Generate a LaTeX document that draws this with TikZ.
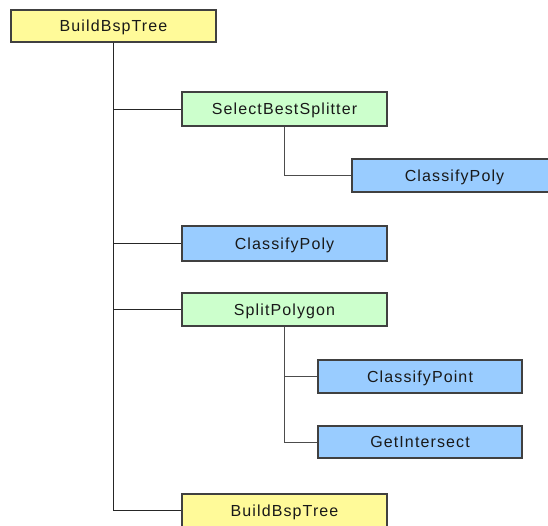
\documentclass[tikz,border=0pt]{standalone}
\usepackage{fontspec}
\setmainfont{Liberation Sans}[LetterSpace=7]
\begin{document}
\begin{tikzpicture}[x=1pt,y=-1pt,
  call/.style={draw=black!75, line width=1.1pt, minimum width=205pt,
    minimum height=33pt, inner sep=0pt, text=black!90,
    text height=11.5pt, text depth=0pt,
    font=\fontsize{16}{19}\selectfont},
  yellowbox/.style={call, fill=yellow!40},
  greenbox/.style={call, fill=green!20},
  bluebox/.style={call, fill={rgb,255:red,153;green,204;blue,255}},
  link/.style={draw=black!70, line width=0.8pt}]
  \useasboundingbox (0,0) rectangle (548,525);

  % call-tree nodes
  \node[yellowbox, minimum height=32pt] (root) at (113.5,26) {BuildBspTree};
  \node[greenbox, minimum height=34pt]  (sbs)  at (284.5,109) {SelectBestSplitter};
  \node[bluebox]                        (cpa)  at (454.5,175.5) {ClassifyPoly};
  \node[bluebox, minimum height=35pt]   (cpb)  at (284.5,243.5) {ClassifyPoly};
  \node[greenbox]                       (sp)   at (284.5,309.5) {SplitPolygon};
  \node[bluebox, minimum width=204pt]   (cpt)  at (420,376.5) {ClassifyPoint};
  \node[bluebox, minimum width=204pt, minimum height=32pt] (gi) at (420,442) {GetIntersect};
  \node[yellowbox]                      (bbt)  at (284.5,510.5) {BuildBspTree};

  % elbow connectors from each caller to its callees
  \draw[link, draw=black!85] (root.south) |- (sbs.west);
  \draw[link, draw=black!85] (root.south) |- (cpb.west);
  \draw[link, draw=black!85] (root.south) |- (sp.west);
  \draw[link, draw=black!85] (root.south) |- (bbt.west);
  \draw[link] (sbs.south) |- (cpa.west);
  \draw[link] (sp.south) |- (cpt.west);
  \draw[link] (sp.south) |- (gi.west);
\end{tikzpicture}
\end{document}
